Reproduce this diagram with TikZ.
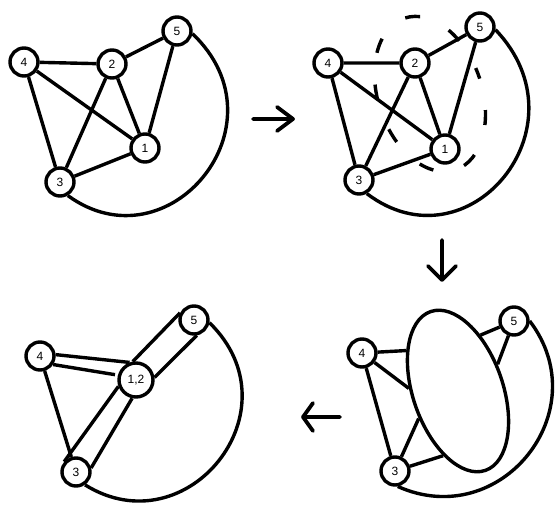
\documentclass[tikz,border=0pt]{standalone}
\usepackage{fontspec}
\setmainfont{Liberation Sans}
\usetikzlibrary{shapes.geometric}
\begin{document}
\begin{tikzpicture}[x=1pt,y=-1pt,
  vertex/.style={circle, draw, line width=3.4pt, minimum size=28pt, inner sep=0pt,
    fill=white, font=\fontsize{12}{14}\selectfont},
  bigvertex/.style={vertex, minimum size=34pt},
  edge/.style={line width=3.4pt},
  stepline/.style={line width=3.8pt, line cap=round, line join=round}]
\useasboundingbox (0,0) rectangle (555,510);

% ---- original graph ----
\node[vertex] (a4) at (24,62) {4};
\node[vertex] (a2) at (112,64) {2};
\node[vertex] (a5) at (177,31) {5};
\node[vertex] (a1) at (145,148) {1};
\node[vertex] (a3) at (60,182) {3};
\draw[edge] (a4) -- (a2) (a4) -- (a1) (a4) -- (a3) (a2) -- (a5)
  (a2) -- (a3) (a2) -- (a1) (a5) -- (a1) (a3) -- (a1);
\draw[edge] (a5.-10) .. controls (288.5,125) and (168,268.6) .. (a3.-60);

% ---- edge 1-2 selected ----
\node[vertex] (b4) at (328,63) {4};
\node[vertex] (b2) at (415,63) {2};
\node[vertex] (b5) at (480,27) {5};
\node[vertex] (b1) at (445,149) {1};
\node[vertex] (b3) at (359,180) {3};
\draw[edge] (b4) -- (b2) (b4) -- (b1) (b4) -- (b3) (b2) -- (b5)
  (b2) -- (b3) (b2) -- (b1) (b5) -- (b1) (b3) -- (b1);
\draw[edge] (b5.-10) .. controls (588.5,127) and (468,270.6) .. (b3.-60);
\draw[edge, dash pattern=on 15pt off 32pt, dash phase=5pt,
  rotate around={18.6:(430,94)}] (430,94) ellipse [x radius=52pt, y radius=80pt];

% ---- vertices 1 and 2 merged into one blob ----
\node[vertex] (c4) at (362,353) {4};
\node[vertex] (c5) at (514,321) {5};
\node[vertex] (c3) at (395,471) {3};
\node[draw, ellipse, line width=3.4pt, minimum width=90pt, minimum height=168pt,
  inner sep=0pt, rotate=19] (E) at (458,391) {};
\draw[edge] (c4) -- (E.123) (c4) -- (E.158) (c3) -- (E.196) (c3) -- (E.238)
  (c5) -- (E.49) (c5) -- (E.15) (c4) -- (c3);
\draw[edge] (c5.0) .. controls (598,410.7) and (500.9,532.6) .. (c3.-80);

% ---- contracted multigraph ----
\node[vertex] (d4) at (40,356) {4};
\node[bigvertex] (d12) at (136,380) {1,2};
\node[vertex] (d5) at (194,320) {5};
\node[vertex] (d3) at (76,472) {3};
\draw[edge] (d4.5) -- (d12.110);
\draw[edge, shorten >=3pt] (d4.-33) -- (d12.165);
\draw[edge] (d12.100) -- (d5.153) (d12.8) -- (d5.-80)
  (d12.200) -- (d3.139) (d12.258) -- (d3.15) (d4) -- (d3);
\draw[edge] (d5.-10) .. controls (299,410) and (187,548.5) .. (d3.-55);

% ---- step arrows ----
\coordinate (rs) at (253,119); \coordinate (re) at (293,119);
\coordinate (ru) at (277,107); \coordinate (rd) at (277,131);
\draw[stepline] (rs) -- (re) (ru) -- (re) -- (rd);
\coordinate (ds) at (442,240); \coordinate (de) at (442,280);
\coordinate (dl) at (428,266); \coordinate (dr) at (456,266);
\draw[stepline] (ds) -- (de) (dl) -- (de) -- (dr);
\coordinate (ls) at (340,417); \coordinate (le) at (303,417);
\coordinate (lu) at (313,403); \coordinate (ld) at (313,431);
\draw[stepline] (ls) -- (le) (lu) -- (le) -- (ld);
\end{tikzpicture}
\end{document}
